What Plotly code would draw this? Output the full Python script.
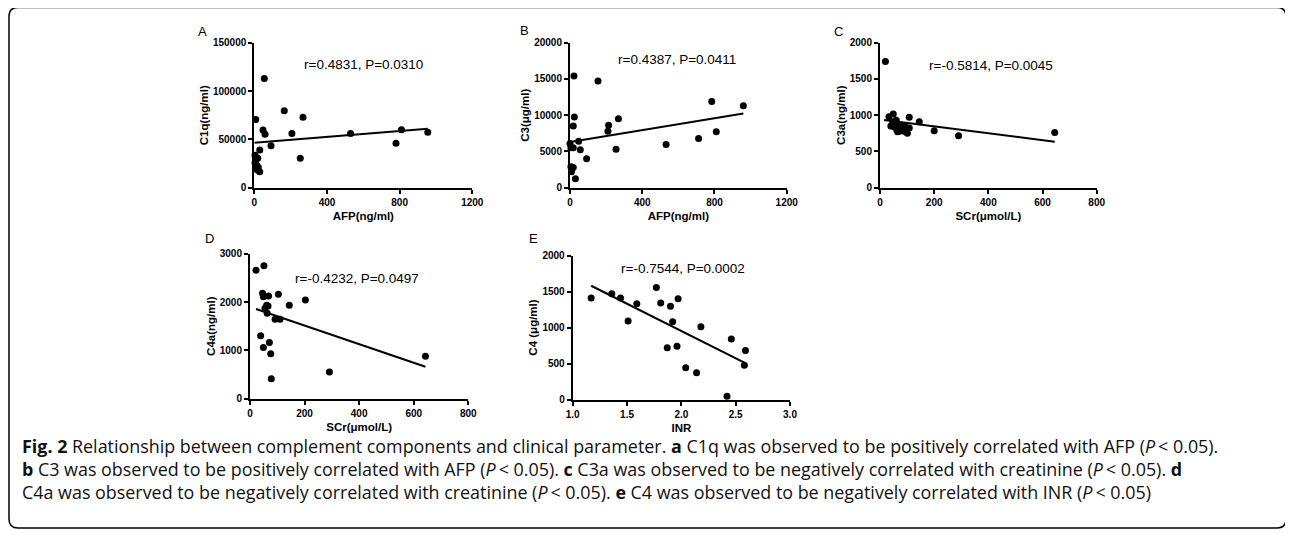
import plotly.graph_objects as go

# the page body adds an 8px margin, so the figure is drawn 8px in
OFF = 8
W, H = 1293 - OFF, 534 - OFF

# ---- data ----
afp_a = [55, 8, 165, 268, 48, 59, 207, 530, 810, 955, 780, 92, 30, 253, 4, 19, 8, 4, 13, 22, 15, 30]
c1q_a = [113000, 70500, 79500, 72800, 59600, 55200, 56000, 56000, 60000, 57300, 46000, 43500,
         39000, 30400, 33500, 30400, 28600, 25900, 23500, 21100, 18300, 16500]
fit_a_x = [0, 955]
fit_a_y = [46500, 61000]

afp_b = [22, 155, 785, 960, 24, 18, 268, 214, 210, 810, 712, 532, 255, 48, 57, 92, 30, 0, 5, 18, 5, 18, 8]
c3_b = [15400, 14700, 11900, 11300, 9750, 8500, 9500, 8600, 7800, 7700, 6800, 5950, 5300, 6400,
        5240, 4000, 1250, 6100, 5500, 5500, 2900, 2800, 2200]
fit_b_x = [0, 960]
fit_b_y = [6300, 10250]

scr_c = [20, 33, 49, 47, 55, 61, 74, 80, 92, 108, 108, 101, 145, 200, 290, 645, 65, 40, 60, 70, 88, 52]
c3a_c = [1740, 980, 1015, 910, 890, 805, 865, 795, 850, 970, 825, 750, 910, 785, 715, 760,
         770, 850, 930, 780, 780, 840]
fit_c_x = [15, 645]
fit_c_y = [933, 634]

scr_d = [22, 51, 46, 49, 68, 104, 203, 144, 61, 55, 63, 92, 110, 39, 71, 49, 76, 78, 291, 643, 66]
c4a_d = [2660, 2750, 2180, 2110, 2125, 2160, 2042, 1935, 1935, 1870, 1766, 1642, 1645, 1304,
         1165, 1060, 931, 415, 552, 876, 1920]
fit_d_x = [22, 643]
fit_d_y = [1855, 662]

inr_e = [1.17, 1.36, 1.44, 1.59, 1.51, 1.77, 1.81, 1.90, 1.97, 1.92, 1.87, 1.96, 2.18, 2.04,
         2.14, 2.46, 2.59, 2.58, 2.42]
c4_e = [1410, 1470, 1410, 1330, 1090, 1555, 1340, 1295, 1400, 1080, 720, 740, 1010, 440,
        370, 840, 680, 475, 45]
fit_e_x = [1.17, 2.58]
fit_e_y = [1580, 512]

stats = ["r=0.4831, P=0.0310", "r=0.4387, P=0.0411", "r=-0.5814, P=0.0045",
         "r=-0.4232, P=0.0497", "r=-0.7544, P=0.0002"]
letters = ["A", "B", "C", "D", "E"]
x_titles = ["AFP(ng/ml)", "AFP(ng/ml)", "SCr(\u03bcmol/L)", "SCr(\u03bcmol/L)", "INR"]
y_titles = ["C1q(ng/ml)", "C3(\u03bcg/ml)", "C3a(ng/ml)", "C4a(ng/ml)", "C4 (\u03bcg/ml)"]
x_ranges = [[0, 1200], [0, 1200], [0, 800], [0, 800], [1.0, 3.0]]
y_ranges = [[0, 150000], [0, 20000], [0, 2000], [0, 3000], [0, 2000]]
x_dticks = [400, 400, 200, 200, 0.5]
y_dticks = [50000, 5000, 500, 1000, 500]

caption = [
    "<b>Fig. 2</b> Relationship between complement components and clinical parameter. "
    "<b>a</b> C1q was observed to be positively correlated with AFP (<i>P</i>\u2009&lt; 0.05).",
    "<b>b</b> C3 was observed to be positively correlated with AFP (<i>P</i>\u2009&lt; 0.05). "
    "<b>c</b> C3a was observed to be negatively correlated with creatinine (<i>P</i>\u2009&lt; 0.05). <b>d</b>",
    "C4a was observed to be negatively correlated with creatinine (<i>P</i>\u2009&lt; 0.05). "
    "<b>e</b> C4 was observed to be negatively correlated with INR (<i>P</i>\u2009&lt; 0.05)",
]

# panel boxes in screen pixels: left, right, top, bottom (axis lines)
boxes = [(254.3, 472.3, 42.7, 187.7), (570, 786.7, 42.7, 187.7), (880, 1096.7, 42.7, 187.7),
         (250, 468.3, 253.7, 398.7), (572.7, 790, 255.5, 399.5)]
letter_pos = [(203, 32), (524, 31), (838, 32), (209, 238), (533, 239)]
stat_pos = [(363, 65), (677, 60), (991, 66), (357, 278), (683, 268)]


def px(x):
    return (x - OFF) / W


def py(y):
    return 1 - (y - OFF) / H


xs = [afp_a, afp_b, scr_c, scr_d, inr_e]
ys = [c1q_a, c3_b, c3a_c, c4a_d, c4_e]
fxs = [fit_a_x, fit_b_x, fit_c_x, fit_d_x, fit_e_x]
fys = [fit_a_y, fit_b_y, fit_c_y, fit_d_y, fit_e_y]

fig = go.Figure()
tick_font = dict(family="Liberation Sans, Arial", size=10, color="black", weight="bold")
title_font = dict(family="Liberation Sans, Arial", size=11.5, color="black", weight="bold")
layout = {}
annotations = []

for i in range(5):
    n = "" if i == 0 else str(i + 1)
    xa, ya = "x" + n, "y" + n
    fig.add_trace(go.Scatter(x=xs[i], y=ys[i], mode="markers", xaxis=xa, yaxis=ya,
                             marker=dict(color="black", size=7), cliponaxis=False,
                             showlegend=False))
    fig.add_trace(go.Scatter(x=fxs[i], y=fys[i], mode="lines", xaxis=xa, yaxis=ya,
                             line=dict(color="black", width=2), showlegend=False))
    l, r, t, b = boxes[i]
    common = dict(showline=True, linecolor="black", linewidth=2, ticks="outside",
                  ticklen=4, tickwidth=2, tickcolor="black", showgrid=False,
                  zeroline=False, tickfont=tick_font, automargin=False)
    layout["xaxis" + n] = dict(common, domain=[px(l), px(r)], range=x_ranges[i],
                               dtick=x_dticks[i], tick0=x_ranges[i][0], anchor=ya,
                               tickformat=".1f" if i == 4 else "d",
                               title=dict(text=x_titles[i], standoff=5, font=title_font))
    layout["yaxis" + n] = dict(common, domain=[py(b), py(t)], range=y_ranges[i],
                               dtick=y_dticks[i], tick0=0, anchor=xa, tickformat="d",
                               title=dict(text=y_titles[i], standoff=2, font=title_font))
    annotations.append(dict(text=letters[i], x=px(letter_pos[i][0]), y=py(letter_pos[i][1]),
                            xref="paper", yref="paper", showarrow=False,
                            xanchor="center", yanchor="middle",
                            font=dict(family="Liberation Sans, Arial", size=13, color="black")))
    annotations.append(dict(text=stats[i], x=px(stat_pos[i][0]), y=py(stat_pos[i][1]),
                            xref="paper", yref="paper", showarrow=False,
                            xanchor="center", yanchor="middle",
                            font=dict(family="Liberation Sans, Arial", size=13.5, color="black")))

cap_y = [446, 469, 492]
for line, cy in zip(caption, cap_y):
    annotations.append(dict(text=line, x=px(20), y=py(cy), xref="paper", yref="paper",
                            xanchor="left", yanchor="middle", showarrow=False,
                            font=dict(family="Open Sans", size=17.9, color="#111111")))

# rounded frame around the figure
fl, fr, ft, fb, rad = 9, 1286, 7.5, 528, 9
frame = (f"M {px(fl + rad)},{py(ft)} L {px(fr - rad)},{py(ft)} Q {px(fr)},{py(ft)} {px(fr)},{py(ft + rad)} "
         f"L {px(fr)},{py(fb - rad)} Q {px(fr)},{py(fb)} {px(fr - rad)},{py(fb)} "
         f"L {px(fl + rad)},{py(fb)} Q {px(fl)},{py(fb)} {px(fl)},{py(fb - rad)} "
         f"L {px(fl)},{py(ft + rad)} Q {px(fl)},{py(ft)} {px(fl + rad)},{py(ft)} Z")

fig.update_layout(width=W, height=H, margin=dict(l=0, r=0, t=0, b=0),
                  paper_bgcolor="white", plot_bgcolor="white",
                  annotations=annotations,
                  shapes=[dict(type="path", path=frame, xref="paper", yref="paper",
                               line=dict(color="black", width=1.5))],
                  **layout)

fig.write_html("out.html")
